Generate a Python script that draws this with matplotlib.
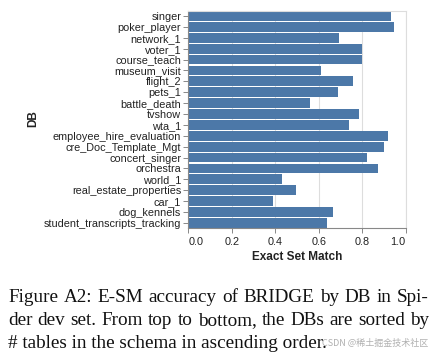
import matplotlib
matplotlib.use("Agg")
import matplotlib.pyplot as plt

# DBs, top to bottom (sorted by # tables ascending)
dbs = ["singer", "poker_player", "network_1", "voter_1", "course_teach",
       "museum_visit", "flight_2", "pets_1", "battle_death", "tvshow",
       "wta_1", "employee_hire_evaluation", "cre_Doc_Template_Mgt",
       "concert_singer", "orchestra", "world_1", "real_estate_properties",
       "car_1", "dog_kennels", "student_transcripts_tracking"]
esm = [0.931, 0.946, 0.695, 0.797, 0.797,
       0.609, 0.759, 0.687, 0.560, 0.787,
       0.741, 0.919, 0.902, 0.820, 0.871,
       0.431, 0.497, 0.390, 0.667, 0.638]
xticks = [0.0, 0.2, 0.4, 0.6, 0.8, 1.0]
caption = ["Figure A2: E-SM accuracy of BRIDGE by DB in Spi-",
           "der dev set. From top to bottom, the DBs are sorted by",
           "# tables in the schema in ascending order."]

W, H = 438, 358
fig = plt.figure(figsize=(W / 100, H / 100), dpi=100)

# plot area in pixels
x0, x1 = 188.3, 405.7
y0, y1 = 10.6, 228.3
ax = fig.add_axes([x0 / W, 1 - y1 / H, (x1 - x0) / W, (y1 - y0) / H])

ypos = list(range(len(dbs)))
ax.barh(ypos, esm, height=0.9, color="#4c78a8", zorder=2)
ax.set_ylim(len(dbs) - 0.5, -0.5)
ax.set_xlim(0, 1)
ax.set_yticks(ypos)
ax.set_yticklabels(dbs)
ax.set_xticks(xticks)
ax.set_xticklabels([f"{t:.1f}" for t in xticks])
lbls = ax.get_xticklabels()
lbls[0].set_ha("left")
lbls[-1].set_ha("right")

ax.grid(axis="x", color="#dddddd", linewidth=0.8, zorder=0)
ax.set_axisbelow(True)
for s in ["top", "right"]:
    ax.spines[s].set_color("#dddddd")
    ax.spines[s].set_linewidth(0.8)
for s in ["left", "bottom"]:
    ax.spines[s].set_color("#888888")
    ax.spines[s].set_linewidth(0.8)
ax.tick_params(length=3.6, width=0.7, color="#888888", pad=1.5,
               labelsize=7.8, labelcolor="#222222")
ax.tick_params(axis="x", pad=2.5)
for t in ax.get_xticklabels() + ax.get_yticklabels():
    t.set_family("Liberation Sans")

fig.text(33 / W, 1 - 119 / H, "DB", rotation=90, ha="center", va="center",
         fontsize=8.5, fontweight="bold", family="Liberation Sans", color="#222222")
fig.text((x0 + x1) / 2 / W, 1 - 257.5 / H, "Exact Set Match", ha="center",
         va="center", fontsize=8.5, fontweight="bold", family="Liberation Sans",
         color="#222222")

# watermark
fig.text(322 / W, 1 - 343 / H, "CSDN @稀土掘金技术社区", ha="left", va="center",
         fontsize=6.5, color="#b0b0b0", family=["Noto Sans CJK SC", "DejaVu Sans"])

# caption, first two lines justified between left and right margins
cap_kw = dict(ha="left", va="center", fontsize=13.8, family="Liberation Serif",
              color="#111111")
left, right = 8, 429
renderer = fig.canvas.get_renderer()
for i, line in enumerate(caption):
    ypix = 298 + 22.5 * i
    if i == len(caption) - 1:
        fig.text(left / W, 1 - ypix / H, line, **cap_kw)
        continue
    words = line.split(" ")
    texts = [fig.text(0, 1 - ypix / H, w, **cap_kw) for w in words]
    widths = [t.get_window_extent(renderer).width for t in texts]
    gap = (right - left - sum(widths)) / (len(words) - 1)
    x = left
    for t, w in zip(texts, widths):
        t.set_x(x / W)
        x += w + gap

fig.savefig("out.png", dpi=100)
